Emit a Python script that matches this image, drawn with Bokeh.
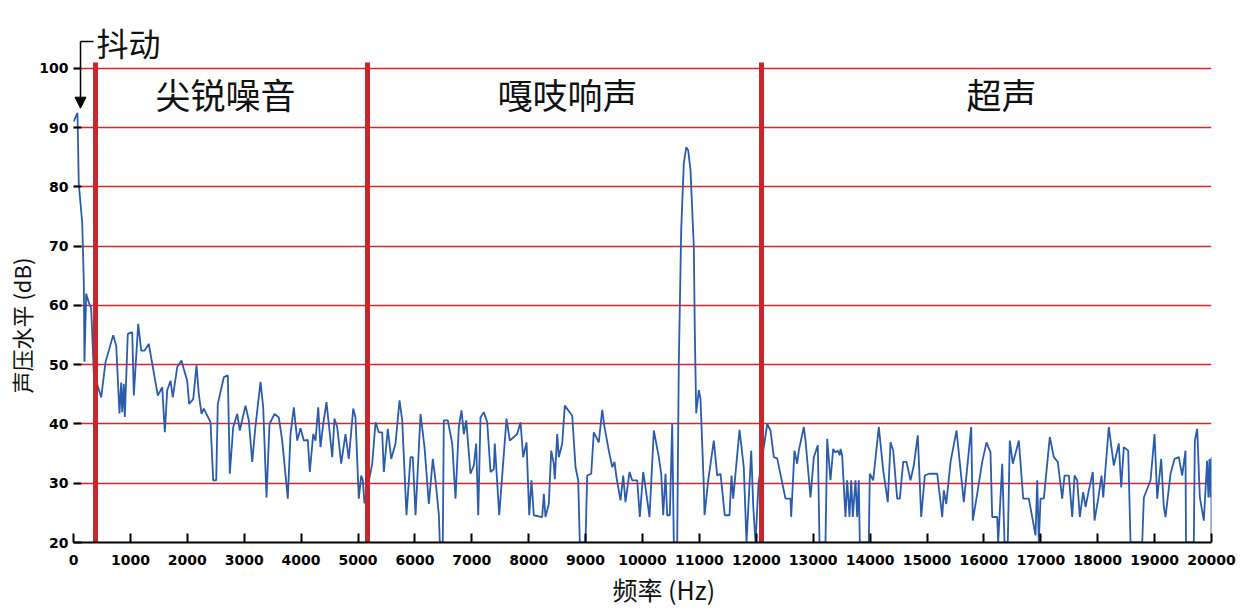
from bokeh.plotting import figure
from bokeh.models import Range1d, FixedTicker, Label, Arrow, NormalHead, Title
from bokeh.embed import file_html
from bokeh.resources import INLINE

# ---------------- data ----------------
freq_hz = [
    0, 70, 93, 153, 181, 193, 223, 269, 311, 357, 487, 562, 698, 751, 808, 838, 856, 884, 902, 954,
    1032, 1060, 1137, 1190, 1248, 1323, 1482, 1559, 1605, 1647, 1705, 1745, 1823, 1898, 1939, 1998,
    2033, 2104, 2162, 2202, 2250, 2290, 2408, 2455, 2508, 2536, 2642, 2712, 2747, 2807, 2877, 2923,
    3023, 3081, 3141, 3199, 3287, 3334, 3392, 3445, 3533, 3608, 3668, 3766, 3814, 3872, 3932, 3990,
    4048, 4118, 4153, 4213, 4253, 4301, 4341, 4389, 4446, 4487, 4547, 4587, 4634, 4705, 4780, 4838,
    4916, 4956, 5014, 5056, 5084, 5114, 5250, 5308, 5366, 5425, 5454, 5524, 5584, 5659, 5730, 5777,
    5852, 5923, 5963, 6011, 6099, 6169, 6245, 6315, 6362, 6420, 6438, 6490, 6508, 6578, 6656, 6714,
    6772, 6819, 6860, 6902, 6977, 7035, 7077, 7113, 7153, 7211, 7271, 7329, 7387, 7404, 7482, 7610,
    7668, 7738, 7798, 7856, 7903, 7962, 8009, 8049, 8090, 8237, 8266, 8295, 8353, 8396, 8441, 8459,
    8501, 8529, 8589, 8635, 8765, 8823, 8870, 8898, 8998, 9028, 9099, 9144, 9232, 9292, 9332, 9408,
    9468, 9508, 9543, 9613, 9661, 9701, 9772, 9819, 9907, 9953, 10012, 10053, 10123, 10199, 10287,
    10329, 10364, 10404, 10434, 10480, 10522, 10550, 10610, 10638, 10680, 10726, 10768, 10803, 10844,
    10902, 10919, 10944, 10990, 11019, 11077, 11090, 11155, 11253, 11313, 11371, 11446, 11529, 11564,
    11594, 11705, 11780, 11828, 11911, 11946, 11986, 12039, 12192, 12250, 12308, 12367, 12513, 12601,
    12613, 12671, 12718, 12747, 12835, 12865, 12953, 13011, 13081, 13111, 13216, 13246, 13304, 13351,
    13392, 13432, 13467, 13480, 13509, 13567, 13597, 13638, 13668, 13696, 13743, 13773, 13801, 13819,
    13977, 13995, 14054, 14153, 14230, 14311, 14359, 14406, 14476, 14522, 14582, 14640, 14710, 14768,
    14838, 14898, 14962, 15032, 15180, 15268, 15296, 15338, 15414, 15519, 15647, 15777, 15805, 15882,
    15970, 16046, 16116, 16146, 16234, 16251, 16322, 16362, 16420, 16455, 16508, 16614, 16691, 16790,
    16907, 16937, 16965, 16995, 17053, 17158, 17229, 17299, 17376, 17417, 17493, 17552, 17593, 17640,
    17686, 17745, 17786, 17844, 17914, 17944, 18009, 18067, 18097, 18195, 18283, 18371, 18413, 18459,
    18536, 18577, 18783, 18811, 18929, 18999, 19046, 19116, 19162, 19192, 19280, 19350, 19426, 19485,
    19543, 19552, 19689, 19707, 19749, 19795, 19865, 19923, 19946, 19965, 19985, 20000, 20000,
]
level_db = [
    91.0, 92.5, 80.5, 74.0, 64.0, 50.5, 62.0, 60.5, 59.5, 48.5, 44.5, 50.4, 55.0, 53.2, 41.8, 47.0, 42.0, 46.8, 41.2, 55.2,
    55.5, 44.8, 56.9, 52.4, 52.4, 53.5, 44.8, 46.2, 38.6, 45.7, 47.3, 44.5, 49.6, 50.7, 49.3, 47.3,
    43.4, 44.2, 49.9, 45.1, 41.7, 42.6, 40.3, 30.5, 30.5, 43.4, 47.9, 48.2, 31.6, 39.5, 41.7, 38.9,
    43.1, 40.6, 33.6, 39.7, 47.1, 42.8, 27.6, 40.0, 41.7, 41.1, 37.2, 27.4, 38.3, 42.8, 37.2, 39.3,
    37.2, 37.3, 31.9, 38.3, 37.2, 42.8, 36.1, 40.0, 43.7, 40.0, 34.4, 40.9, 39.5, 33.3, 38.3, 34.1,
    42.6, 41.1, 27.4, 31.3, 30.5, 26.6, 33.3, 40.3, 38.6, 38.6, 31.9, 39.2, 34.1, 36.7, 44.0, 40.6,
    24.6, 34.4, 34.4, 24.6, 41.7, 36.1, 26.5, 34.1, 30.5, 24.8, 20.0, 20.0, 40.6, 40.6, 36.7, 27.4,
    39.5, 42.3, 38.3, 40.6, 31.6, 33.0, 36.7, 24.6, 41.1, 42.0, 40.3, 31.9, 32.4, 36.7, 24.6, 40.9,
    37.2, 37.8, 38.3, 40.3, 34.4, 36.9, 24.6, 30.5, 24.6, 24.3, 28.2, 24.3, 26.5, 35.5, 33.3, 30.7,
    38.3, 34.4, 36.7, 43.1, 41.4, 32.7, 30.5, 20.0, 20.0, 31.3, 31.6, 38.6, 36.9, 42.4, 39.5, 35.5,
    32.7, 33.6, 31.0, 27.1, 31.3, 26.8, 31.9, 30.5, 30.5, 24.3, 31.9, 29.3, 24.3, 38.9, 34.4,
    31.6, 24.6, 31.6, 24.6, 24.6, 40.0, 20.0, 20.0, 50.2, 72.7, 84.0, 86.7, 86.2, 82.8,
    69.8, 55.8, 41.8, 45.7, 44.3, 29.6, 24.6, 30.5, 37.2, 31.3, 31.6, 24.6, 24.6, 31.3,
    27.4, 39.0, 32.7, 20.0, 35.5, 26.2, 20.0, 30.0, 40.0, 38.9, 34.4, 34.2, 27.4, 27.4,
    24.3, 35.5, 33.3, 35.5, 39.5, 37.2, 27.6, 34.4, 36.4, 20.0, 20.0, 37.5, 30.5, 35.8,
    35.2, 35.5, 34.7, 35.8, 34.7, 24.3, 30.5, 24.3, 30.5, 24.3, 30.5, 24.3, 30.5, 20.0,
    20.0, 31.6, 30.5, 39.5, 32.2, 26.8, 36.9, 35.5, 27.4, 27.4, 33.6, 33.6, 30.5, 33.0,
    38.1, 24.3, 31.3, 31.6, 31.6, 24.3, 28.8, 26.5, 33.6, 38.9, 26.8, 39.5, 23.7, 28.2,
    33.6, 36.9, 35.2, 24.3, 24.3, 20.0, 33.3, 20.0, 20.0, 37.2, 33.3, 37.2, 27.4, 27.4,
    21.2, 30.5, 20.0, 27.4, 27.4, 37.8, 34.4, 33.6, 27.4, 31.3, 31.3, 24.3, 31.3, 30.5,
    24.3, 28.5, 26.0, 28.8, 31.9, 23.7, 27.4, 31.3, 27.6, 39.5, 33.0, 36.7, 29.3, 36.1,
    35.5, 20.0, 20.0, 27.6, 30.5, 38.3, 27.4, 34.1, 26.0, 24.3, 31.6, 34.1, 34.4, 31.3,
    35.5, 20.0, 20.0, 37.2, 39.2, 27.6, 23.7, 33.8, 27.6, 34.1, 27.6, 34.4, 21.0,
]

x_ticks = list(range(0, 20001, 1000))
y_ticks = [20, 30, 40, 50, 60, 70, 80, 90, 100]
region_bounds_hz = [387, 5167, 12092]
region_names = ["尖锐噪音", "嘎吱响声", "超声"]
region_label_hz = [2671, 8682, 16310]

BLUE = "#2a5cab"
GRID_RED = "#d6242b"
BAR_RED = "#c4272c"
CJK = "Noto Sans CJK SC"

p = figure(frame_width=1138, frame_height=522, output_backend="svg", toolbar_location=None,
           x_range=Range1d(0, 20000), y_range=Range1d(20, 108.1),
           min_border_left=73, min_border_right=29, min_border_top=20, min_border_bottom=66,
           background_fill_color="white", border_fill_color="white")
p.outline_line_color = None

# axes
p.xaxis.ticker = FixedTicker(ticks=x_ticks)
p.yaxis.ticker = FixedTicker(ticks=y_ticks)
for ax in (p.xaxis, p.yaxis):
    ax.major_label_text_font = "DejaVu Sans"
    ax.major_label_text_font_style = "bold"
    ax.major_label_text_font_size = "14px"
    ax.major_label_text_color = "black"
    ax.minor_tick_line_color = None
    ax.major_tick_line_color = "black"
    ax.major_tick_line_width = 2
    ax.major_tick_out = 0
p.xaxis.axis_line_color = "black"
p.xaxis.axis_line_width = 2
p.xaxis.major_tick_in = 9
p.xaxis.major_label_standoff = 12
p.yaxis.axis_line_color = None
p.yaxis.major_tick_in = 8
p.yaxis.major_label_standoff = 5

p.xgrid.grid_line_color = None
p.ygrid.grid_line_color = GRID_RED
p.ygrid.grid_line_width = 1.6

# axis titles
p.add_layout(Title(text="声压水平 (dB)", text_font=CJK, text_font_size="22px",
                   text_font_style="normal", text_color="#111111", align="left",
                   offset=149, standoff=0), "left")
p.add_layout(Title(text="频率 (Hz)", text_font=CJK, text_font_size="25px",
                   text_font_style="normal", text_color="#111111", align="left",
                   offset=539, standoff=2), "below")

# data line
p.line(freq_hz, level_db, line_color=BLUE, line_width=1.8)

# thick region separators
p.segment(x0=region_bounds_hz, y0=[20] * 3, x1=region_bounds_hz, y1=[101.0] * 3,
          line_color=BAR_RED, line_width=5)

# region titles
for name, xc in zip(region_names, region_label_hz):
    p.add_layout(Label(x=xc, y=95.8, text=name, text_font=CJK, text_font_size="35px",
                       text_align="center", text_baseline="middle", text_color="#111111"))

# 抖动 annotation with bracket arrow
p.add_layout(Label(x=404, y=104.4, text="抖动", text_font=CJK, text_font_size="32px",
                   text_align="left", text_baseline="middle", text_color="#111111"))
p.add_layout(Arrow(end=None, x_start=123, y_start=104.56, x_end=351, y_end=104.56,
                   line_color="black", line_width=1.5))
p.add_layout(Arrow(end=NormalHead(size=11, fill_color="black", line_color="black"),
                   x_start=123, y_start=104.56, x_end=123, y_end=93.3,
                   line_color="black", line_width=1.5))

open("out.html", "w").write(file_html(p, INLINE))
